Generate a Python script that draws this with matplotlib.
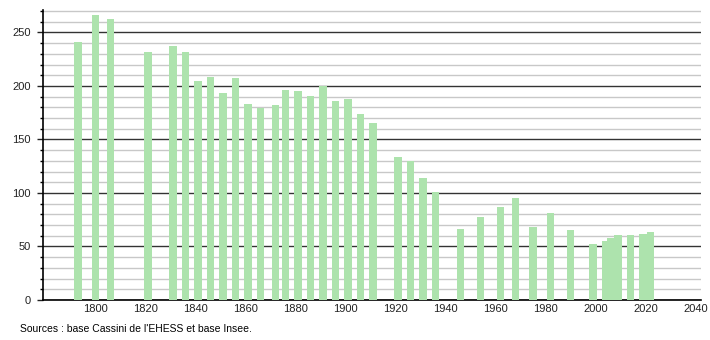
import matplotlib
matplotlib.use("Agg")
import matplotlib.pyplot as plt
from matplotlib.ticker import MultipleLocator

years = [1793, 1800, 1806, 1821, 1831, 1836, 1841, 1846, 1851, 1856,
         1861, 1866, 1872, 1876, 1881, 1886, 1891, 1896, 1901, 1906,
         1911, 1921, 1926, 1931, 1936, 1946, 1954, 1962, 1968, 1975,
         1982, 1990, 1999, 2004, 2006, 2009, 2014, 2019, 2022]
population = [241, 266, 263, 232, 237, 232, 205, 208, 193, 207,
              183, 179, 182, 196, 195, 191, 200, 186, 188, 174,
              165, 134, 130, 114, 101, 66, 78, 87, 95, 68,
              81, 65, 52, 55, 58, 61, 61, 62, 64]
source_text = "Sources : base Cassini de l'EHESS et base Insee."

plt.rcParams['font.family'] = ['Liberation Sans', 'DejaVu Sans']

fig = plt.figure(figsize=(7.1, 3.4), dpi=100)
ax = fig.add_axes([43 / 710, 40 / 340, 658 / 710, 290 / 340])

ax.bar(years, population, width=3.1, color='#ade3ad', zorder=3)

ax.set_xlim(1779, 2042.2)
ax.set_ylim(0, 271)
ax.yaxis.set_major_locator(MultipleLocator(50))
ax.yaxis.set_minor_locator(MultipleLocator(10))
ax.set_xticks(range(1800, 2041, 20))

ax.grid(axis='y', which='minor', color='#c8c8c8', linewidth=1, zorder=1)
ax.grid(axis='y', which='major', color='#333333', linewidth=1, zorder=2)

for side in ['top', 'right']:
    ax.spines[side].set_visible(False)
ax.spines['left'].set_linewidth(1.2)
ax.spines['bottom'].set_linewidth(1.2)

ax.tick_params(axis='x', length=0, pad=3, labelsize=8, colors='#222222')
ax.tick_params(axis='y', which='major', length=4, width=1, pad=5, labelsize=8, colors='#222222')
ax.tick_params(axis='y', which='minor', length=2, width=1)

fig.text(20 / 710, 1 - 329 / 340, source_text, fontsize=7.5, va='center', ha='left')

fig.savefig("out.png", dpi=100)
